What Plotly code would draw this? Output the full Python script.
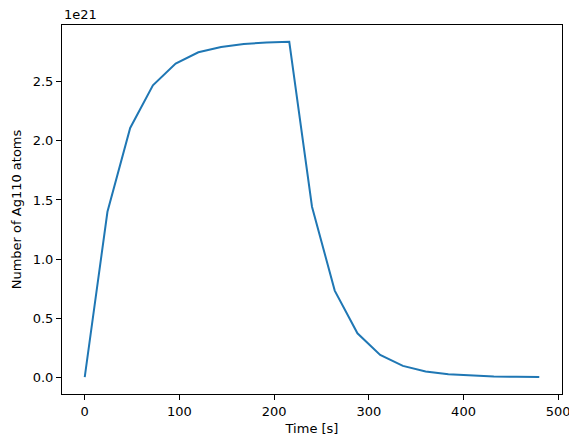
import plotly.graph_objects as go

# time points [s] and number of Ag110 atoms (in units of 1e21)
time_s = [0, 24, 48, 72, 96, 120, 144, 168, 192, 216,
          240, 264, 288, 312, 336, 360, 384, 408, 432, 456, 480]
atoms_e21 = [0.0, 1.40, 2.11, 2.47, 2.655, 2.75, 2.795, 2.82, 2.833, 2.839,
             1.443, 0.733, 0.372, 0.189, 0.096, 0.049, 0.025, 0.0126, 0.0064, 0.0032, 0.0016]

xticks = [0, 100, 200, 300, 400, 500]
yticks = [0.0, 0.5, 1.0, 1.5, 2.0, 2.5]

font = dict(family="DejaVu Sans", size=13, color="black")

fig = go.Figure()
fig.add_trace(go.Scatter(
    x=time_s,
    y=atoms_e21,
    mode="lines",
    line=dict(color="#1f77b4", width=2),
    showlegend=False))

axis_style = dict(
    showline=True, linecolor="black", linewidth=1, mirror=True,
    ticks="outside", ticklen=5, tickcolor="black", tickwidth=1,
    showgrid=False, zeroline=False, tickfont=font)

fig.update_xaxes(range=[-24, 504], tickvals=xticks,
                 title=dict(text="Time [s]", font=font, standoff=6), **axis_style)
fig.update_yaxes(range=[-0.142, 2.981], tickvals=yticks, tickformat=".1f",
                 title=dict(text="Number of Ag110 atoms", font=font, standoff=8), **axis_style)

fig.add_annotation(text="1e21", xref="paper", yref="paper", x=0, y=1,
                   xanchor="left", yanchor="bottom", showarrow=False, font=font, yshift=1)

# the page body has an 8px margin, so the figure is a bit smaller than the window
fig.update_layout(
    width=569, height=439,
    margin=dict(l=54, r=15, t=17, b=53, autoexpand=False),
    paper_bgcolor="white", plot_bgcolor="white",
    font=font)

fig.write_html("out.html")
